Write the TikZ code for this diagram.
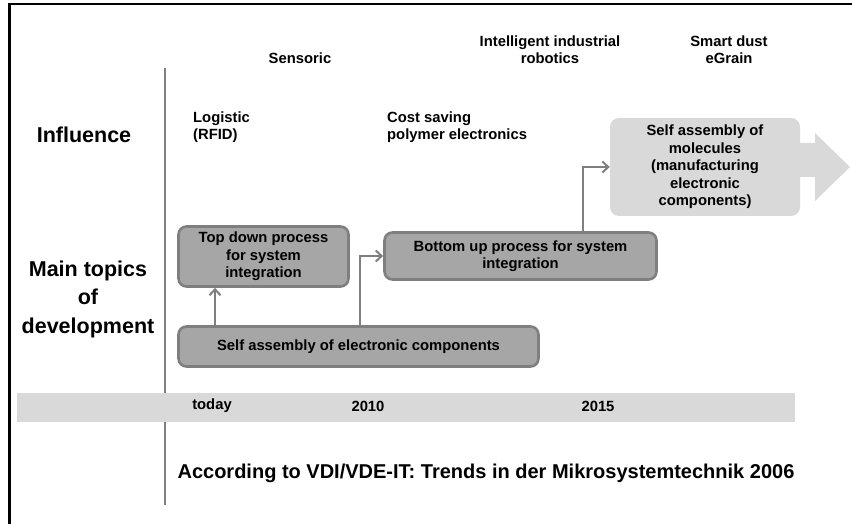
\documentclass[tikz,border=0pt]{standalone}
\usepackage{fontspec}
\setmainfont{Liberation Sans}
\usetikzlibrary{arrows.meta}

\definecolor{boxdark}{HTML}{A6A6A6}
\definecolor{boxedge}{HTML}{7F7F7F}
\definecolor{boxlight}{HTML}{D9D9D9}
\definecolor{linegray}{HTML}{808080}

\tikzset{
  lbl/.style={font=\bfseries\fontsize{14.8}{17.5}\selectfont, inner sep=0pt, align=center},
  lblleft/.style={lbl, align=left, anchor=west},
  heading/.style={font=\bfseries\fontsize{21.5}{28.5}\selectfont, inner sep=0pt, align=center},
  darkbox/.style={draw=boxedge, line width=2.6pt, fill=boxdark, rounded corners=8pt,
    font=\bfseries\fontsize{14.8}{17.5}\selectfont, align=center, inner sep=0pt},
  lightbox/.style={fill=boxlight, rounded corners=9pt,
    font=\bfseries\fontsize{14.8}{17.5}\selectfont, align=center, inner sep=0pt},
  conn/.style={draw=boxedge, line width=2pt, -{Straight Barb[length=6pt,width=11pt,line width=2pt]}},
}

\begin{document}
\begin{tikzpicture}[x=1pt,y=-1pt]
\useasboundingbox (0,0) rectangle (852,524);

% outer frame (left and top edges)
\draw[line width=2pt] (8,4) -- (852,4);
\draw[line width=3pt] (9.5,3) -- (9.5,524);

% vertical divider and time bar
\draw[linegray, line width=2.6pt] (165,68) -- (165,505);
\fill[boxlight] (17,393) rectangle (795,422);
\node[lbl] (today) at (212,406) {today};
\node[lbl] (y2010) at (368,406) {2010};
\node[lbl] (y2015) at (598,406) {2015};

% row headings
\node[heading] (influence) at (84,135) {Influence};
\node[heading] (maintopics) at (88,299) {Main topics\\of\\development};

% influence labels
\node[lbl] (sensoric) at (300,58) {Sensoric};
\node[lbl] (robotics) at (550,49.5) {Intelligent industrial\\robotics};
\node[lbl] (smartdust) at (729,49.5) {Smart dust\\eGrain};
\node[lblleft] (logistic) at (193,127) {Logistic\\(RFID)};
\node[lblleft] (polymer) at (387,127) {Cost saving\\polymer electronics};

% big arrow behind the molecules box
\fill[boxlight] (795,143) -- (815,143) -- (815,133) -- (850,167) -- (815,201)
  -- (815,177) -- (795,177) -- cycle;

% development boxes
\node[darkbox, minimum width=170pt, minimum height=60pt] (topdown) at (263.5,256.5)
  {Top down process\\for system\\integration};
\node[darkbox, minimum width=272pt, minimum height=47pt] (bottomup) at (520.5,256)
  {Bottom up process for system\\integration};
\node[darkbox, minimum width=360pt, minimum height=40pt] (selfelec) at (358.5,346.5)
  {Self assembly of electronic components};
\node[lightbox, minimum width=190pt, minimum height=98pt] (molecules) at (705,167)
  {Self assembly of\\molecules\\(manufacturing\\electronic\\components)};

% connectors
\coordinate (c1) at (215,0);
\coordinate (c2) at (360,0);
\coordinate (c3) at (583,0);
\draw[conn] (selfelec.north -| c1) -- (topdown.south -| c1);
\draw[conn] (selfelec.north -| c2) |- (bottomup.west);
\draw[conn] (bottomup.north -| c3) |- (molecules.west);

% source line
\node[font=\bfseries\fontsize{20}{24}\selectfont, inner sep=0pt] (source) at (486,473)
  {According to VDI/VDE-IT: Trends in der Mikrosystemtechnik 2006};
\end{tikzpicture}
\end{document}
